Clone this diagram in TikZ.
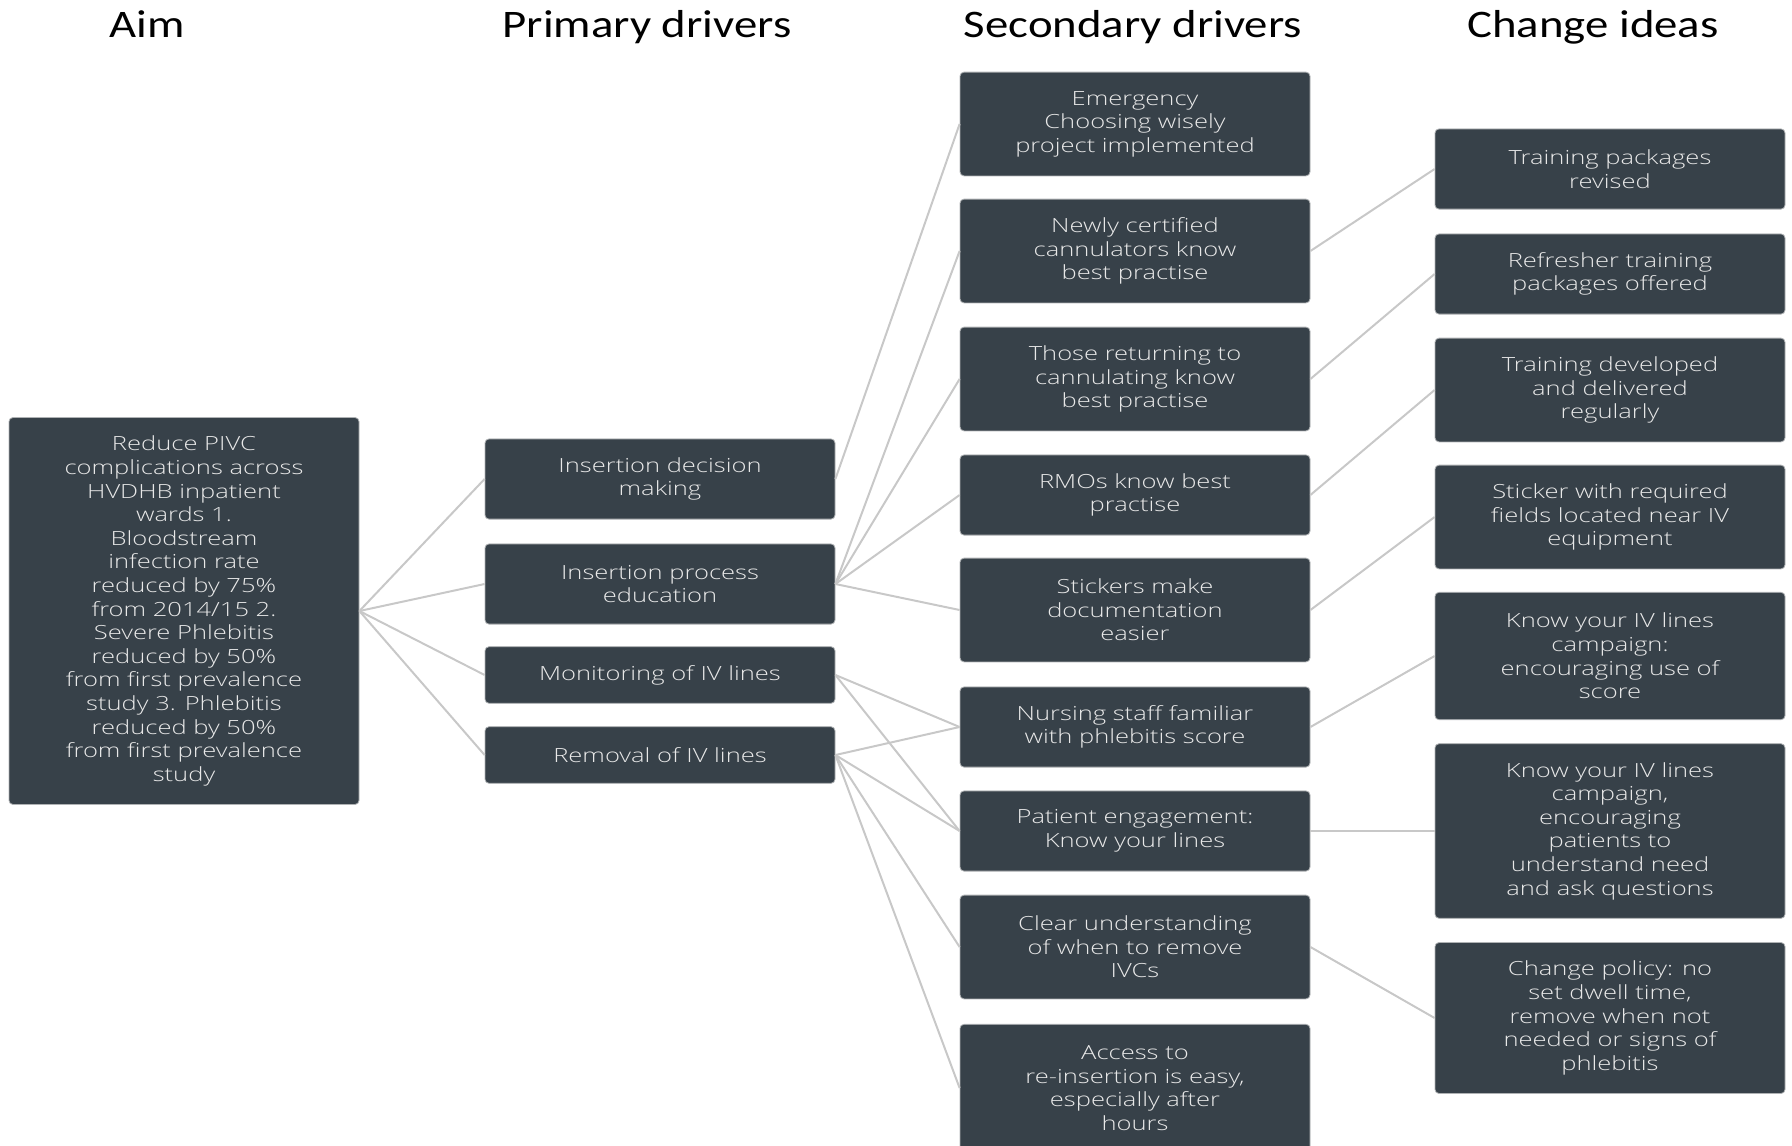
\documentclass[tikz,border=0pt]{standalone}
\usepackage{fontspec}
\newfontfamily\boxfont[FakeStretch=1.31]{Open Sans Light}
\newfontfamily\headfont[FakeStretch=1.2]{Carlito}
\definecolor{boxfill}{RGB}{55,65,73}
\definecolor{boxtext}{RGB}{232,232,232}
\definecolor{boxedge}{RGB}{175,178,180}
\definecolor{linkgray}{RGB}{200,200,200}

\begin{document}
\begin{tikzpicture}[x=1pt,y=-1pt,
    drv/.style={draw=boxedge, line width=0.8pt, fill=boxfill, rounded corners=4pt,
        text=boxtext, align=center, minimum width=350pt, inner sep=0pt,
        font=\boxfont\fontsize{19.5}{23.6}\selectfont},
    nlines/.style={minimum height={23.6pt*#1+33pt}},
    head/.style={anchor=base, font=\headfont\fontsize{39}{46}\selectfont},
    link/.style={draw=linkgray, line width=2pt}]

    \useasboundingbox (0,0) rectangle (1792,1146);

    % column headings
    \node[head] (haim) at (147,37) {Aim};
    \node[head] (hpri) at (647,37) {Primary drivers};
    \node[head] (hsec) at (1133,37) {Secondary drivers};
    \node[head] (hchg) at (1593,37) {Change ideas};

    % aim
    \node[drv, nlines=15] (aim) at (184,611) {Reduce PIVC\\complications across\\HVDHB inpatient\\wards 1.\\Bloodstream\\infection rate\\reduced by 75\%\\from 2014/15 2.\\Severe Phlebitis\\reduced by 50\%\\from first prevalence\\study 3. Phlebitis\\reduced by 50\%\\from first prevalence\\study};

    % primary drivers
    \node[drv, nlines=2] (p1) at (660,479) {Insertion decision\\making};
    \node[drv, nlines=2] (p2) at (660,584) {Insertion process\\education};
    \node[drv, nlines=1] (p3) at (660,675) {Monitoring of IV lines};
    \node[drv, nlines=1] (p4) at (660,755) {Removal of IV lines};

    % secondary drivers
    \node[drv, nlines=3] (s1) at (1135,124) {Emergency\\Choosing wisely\\project implemented};
    \node[drv, nlines=3] (s2) at (1135,251) {Newly certified\\cannulators know\\best practise};
    \node[drv, nlines=3] (s3) at (1135,379) {Those returning to\\cannulating know\\best practise};
    \node[drv, nlines=2] (s4) at (1135,495) {RMOs know best\\practise};
    \node[drv, nlines=3] (s5) at (1135,610) {Stickers make\\documentation\\easier};
    \node[drv, nlines=2] (s6) at (1135,727) {Nursing staff familiar\\with phlebitis score};
    \node[drv, nlines=2] (s7) at (1135,831) {Patient engagement:\\Know your lines};
    \node[drv, nlines=3] (s8) at (1135,947) {Clear understanding\\of when to remove\\IVCs};
    \node[drv, nlines=4] (s9) at (1135,1088) {Access to\\re-insertion is easy,\\especially after\\hours};

    % change ideas
    \node[drv, nlines=2] (c1) at (1610,169) {Training packages\\revised};
    \node[drv, nlines=2] (c2) at (1610,274) {Refresher training\\packages offered};
    \node[drv, nlines=3] (c3) at (1610,390) {Training developed\\and delivered\\regularly};
    \node[drv, nlines=3] (c4) at (1610,517) {Sticker with required\\fields located near IV\\equipment};
    \node[drv, nlines=4] (c5) at (1610,656) {Know your IV lines\\campaign:\\encouraging use of\\score};
    \node[drv, nlines=6] (c6) at (1610,831) {Know your IV lines\\campaign,\\encouraging\\patients to\\understand need\\and ask questions};
    \node[drv, nlines=5] (c7) at (1610,1018) {Change policy: no\\set dwell time,\\remove when not\\needed or signs of\\phlebitis};

    % links
    \foreach \a/\b in {aim/p1, aim/p2, aim/p3, aim/p4,
                       p1/s1, p2/s2, p2/s3, p2/s4, p2/s5,
                       p3/s6, p3/s7, p4/s6, p4/s7, p4/s8, p4/s9,
                       s2/c1, s3/c2, s4/c3, s5/c4, s6/c5, s7/c6, s8/c7}
        \draw[link] (\a.east) -- (\b.west);

\end{tikzpicture}
\end{document}
